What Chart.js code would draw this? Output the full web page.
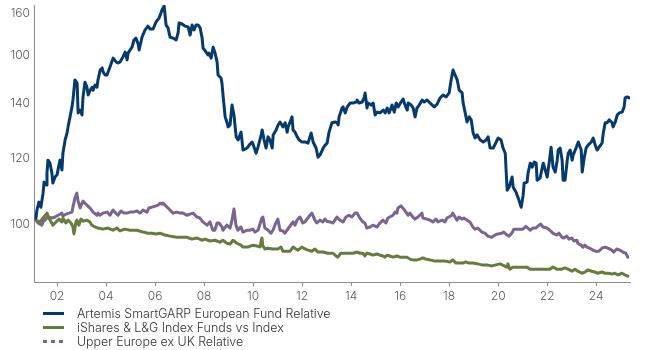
<!DOCTYPE html>
<html>
<head>
<meta charset="utf-8">
<script src="https://cdn.jsdelivr.net/npm/chart.js@4.4.0/dist/chart.umd.min.js"></script>
<style>
    html, body { margin: 0; padding: 0; background: #fff; }
    #wrap { position: relative; width: 650px; height: 350px; }
    .legend { position: absolute; left: 43px; top: 306px; font-family: Inter, sans-serif; font-size: 12.4px; font-weight: 300; color: #333; }
    .legend-row { display: flex; align-items: center; height: 14px; white-space: nowrap; }
    .swatch { width: 21px; height: 3px; margin-right: 13px; }
</style>
</head>
<body>
<div id="wrap">
    <canvas id="chart"></canvas>
    <div class="legend" id="legend"></div>
</div>
<script>
// Axis ticks (the source chart's y labels are printed as-is)
const xTickValues = [2002, 2004, 2006, 2008, 2010, 2012, 2014, 2016, 2018, 2020, 2022, 2024];
const xTickLabels = ['02', '04', '06', '08', '10', '12', '14', '16', '18', '20', '22', '24'];
const yTickValues = [100, 120, 140, 160, 180];
const yTickLabels = ['100', '120', '140', '100', '160'];

const seriesNames = ['Artemis SmartGARP European Fund Relative', 'iShares & L&G Index Funds vs Index', 'Upper Europe ex UK Relative'];

// Artemis SmartGARP European Fund Relative
const artemisDates = [2001.14, 2001.18, 2001.26, 2001.34, 2001.43, 2001.47, 2001.55, 2001.59, 2001.63, 2001.71,
    2001.79, 2001.83, 2001.92, 2002.00, 2002.04, 2002.12, 2002.20, 2002.24, 2002.33, 2002.41,
    2002.45, 2002.53, 2002.61, 2002.65, 2002.73, 2002.82, 2002.86, 2002.94, 2003.02, 2003.06,
    2003.14, 2003.22, 2003.27, 2003.35, 2003.43, 2003.47, 2003.55, 2003.63, 2003.67, 2003.76,
    2003.84, 2003.88, 2003.96, 2004.04, 2004.16, 2004.29, 2004.41, 2004.49, 2004.57, 2004.69,
    2004.78, 2004.86, 2004.90, 2004.98, 2005.06, 2005.14, 2005.22, 2005.31, 2005.35, 2005.47,
    2005.59, 2005.71, 2005.80, 2005.92, 2006.04, 2006.16, 2006.24, 2006.28, 2006.37, 2006.45,
    2006.53, 2006.61, 2006.73, 2006.86, 2006.94, 2006.98, 2007.10, 2007.22, 2007.35, 2007.43,
    2007.51, 2007.59, 2007.67, 2007.76, 2007.84, 2007.92, 2007.96, 2008.08, 2008.16, 2008.20,
    2008.29, 2008.37, 2008.45, 2008.53, 2008.57, 2008.69, 2008.73, 2008.78, 2008.86, 2008.94,
    2008.98, 2009.06, 2009.14, 2009.22, 2009.31, 2009.39, 2009.51, 2009.59, 2009.76, 2009.84,
    2009.96, 2010.04, 2010.12, 2010.20, 2010.33, 2010.37, 2010.45, 2010.53, 2010.61, 2010.69,
    2010.78, 2010.82, 2010.94, 2011.02, 2011.10, 2011.22, 2011.31, 2011.39, 2011.43, 2011.51,
    2011.59, 2011.63, 2011.71, 2011.80, 2011.88, 2012.00, 2012.12, 2012.24, 2012.37, 2012.45,
    2012.57, 2012.65, 2012.73, 2012.86, 2012.94, 2013.02, 2013.10, 2013.22, 2013.35, 2013.43,
    2013.47, 2013.51, 2013.63, 2013.67, 2013.76, 2013.84, 2013.96, 2014.08, 2014.20, 2014.24,
    2014.33, 2014.45, 2014.53, 2014.57, 2014.65, 2014.69, 2014.82, 2014.90, 2014.98, 2015.06,
    2015.18, 2015.31, 2015.39, 2015.47, 2015.55, 2015.67, 2015.76, 2015.84, 2015.92, 2016.04,
    2016.12, 2016.20, 2016.29, 2016.33, 2016.45, 2016.53, 2016.61, 2016.69, 2016.78, 2016.90,
    2016.98, 2017.10, 2017.18, 2017.31, 2017.39, 2017.51, 2017.63, 2017.75, 2017.88, 2018.00,
    2018.08, 2018.16, 2018.24, 2018.33, 2018.41, 2018.53, 2018.57, 2018.65, 2018.73, 2018.82,
    2018.90, 2018.98, 2019.06, 2019.14, 2019.27, 2019.39, 2019.51, 2019.59, 2019.67, 2019.80,
    2019.92, 2020.00, 2020.12, 2020.20, 2020.29, 2020.33, 2020.37, 2020.45, 2020.57, 2020.61,
    2020.73, 2020.82, 2020.94, 2021.02, 2021.06, 2021.18, 2021.22, 2021.31, 2021.39, 2021.47,
    2021.55, 2021.59, 2021.71, 2021.84, 2021.92, 2022.00, 2022.08, 2022.16, 2022.24, 2022.33,
    2022.41, 2022.45, 2022.53, 2022.61, 2022.65, 2022.73, 2022.82, 2022.86, 2022.94, 2023.02,
    2023.06, 2023.18, 2023.27, 2023.39, 2023.43, 2023.51, 2023.59, 2023.67, 2023.80, 2023.88,
    2023.96, 2024.04, 2024.12, 2024.24, 2024.29, 2024.37, 2024.45, 2024.53, 2024.65, 2024.69,
    2024.78, 2024.86, 2024.94, 2025.06, 2025.14, 2025.18, 2025.27, 2025.35];
const artemisValues = [101.7, 104.0, 106.3, 104.8, 109.0, 112.4, 111.5, 115.3, 119.5, 118.5,
    115.3, 112.1, 114.0, 114.7, 116.3, 119.5, 116.3, 121.8, 126.4, 128.9,
    131.1, 134.8, 138.6, 141.3, 149.4, 148.1, 136.3, 137.4, 135.5, 142.5,
    148.5, 146.4, 143.3, 145.2, 146.4, 145.2, 147.3, 146.4, 149.4, 153.6,
    154.5, 152.8, 151.5, 151.5, 154.9, 158.8, 157.1, 156.6, 157.1, 159.3,
    161.5, 158.0, 161.0, 162.4, 163.7, 167.0, 167.9, 165.1, 162.4, 168.4,
    171.7, 173.6, 172.2, 172.2, 175.6, 177.5, 180.0, 181.5, 183.6, 174.1,
    172.7, 168.4, 167.9, 167.0, 170.3, 175.1, 174.6, 173.6, 173.2, 169.3,
    174.1, 171.7, 174.1, 174.1, 172.7, 167.9, 163.3, 161.5, 160.2, 161.0,
    158.8, 163.7, 161.0, 157.1, 151.5, 150.2, 148.1, 142.5, 134.8, 132.6,
    131.1, 131.8, 139.3, 135.5, 127.5, 126.4, 129.2, 122.9, 123.6, 124.6,
    125.7, 123.9, 121.8, 123.9, 128.2, 130.0, 126.4, 123.6, 127.5, 126.4,
    123.6, 128.2, 130.0, 131.8, 132.9, 131.1, 132.6, 129.2, 131.1, 132.9,
    134.8, 130.0, 129.2, 127.5, 126.4, 125.7, 125.7, 125.3, 128.9, 125.7,
    123.6, 120.5, 121.2, 123.6, 124.6, 125.3, 129.2, 132.6, 132.9, 132.6,
    131.8, 134.8, 138.2, 138.6, 136.3, 138.6, 140.1, 140.1, 140.5, 141.3,
    140.1, 140.5, 142.1, 144.1, 138.2, 140.1, 139.3, 140.1, 135.5, 136.6,
    136.3, 137.4, 136.3, 138.2, 136.3, 139.3, 136.6, 140.1, 138.6, 140.5,
    141.7, 139.3, 137.4, 140.1, 139.3, 138.2, 134.8, 138.2, 139.3, 141.3,
    140.5, 141.3, 140.5, 139.3, 138.6, 139.7, 142.1, 143.3, 142.5, 144.1,
    149.4, 153.6, 151.5, 149.4, 145.2, 144.1, 140.1, 136.6, 132.9, 134.8,
    133.7, 128.9, 127.1, 128.2, 126.4, 125.7, 126.4, 127.5, 123.6, 123.6,
    125.7, 127.1, 126.4, 123.6, 121.8, 115.3, 109.9, 110.9, 114.0, 110.9,
    109.3, 107.5, 104.8, 108.4, 112.1, 112.4, 115.3, 118.5, 117.2, 118.9,
    118.5, 113.0, 113.7, 118.5, 116.3, 114.0, 118.5, 123.9, 117.2, 115.6,
    119.5, 122.9, 123.6, 119.5, 113.0, 113.0, 119.5, 121.8, 122.9, 119.5,
    121.2, 123.6, 125.7, 122.9, 115.6, 120.2, 123.6, 124.6, 125.7, 127.1,
    124.6, 122.9, 123.9, 125.3, 128.9, 132.6, 132.6, 133.7, 132.6, 131.1,
    132.9, 135.5, 136.3, 136.6, 138.6, 142.1, 142.5, 142.1];

// iShares & L&G Index Funds vs Index
const indexDates = [2001.14, 2001.30, 2001.43, 2001.59, 2001.67, 2001.83, 2001.96, 2002.08, 2002.20, 2002.24,
    2002.36, 2002.45, 2002.57, 2002.65, 2002.69, 2002.77, 2002.81, 2002.89, 2002.98, 2003.06,
    2003.22, 2003.34, 2003.42, 2003.55, 2003.67, 2003.87, 2004.08, 2004.28, 2004.44, 2004.57,
    2004.77, 2004.98, 2005.26, 2005.51, 2005.71, 2005.87, 2006.04, 2006.20, 2006.40, 2006.61,
    2006.89, 2007.10, 2007.30, 2007.50, 2007.71, 2007.91, 2008.04, 2008.24, 2008.44, 2008.65,
    2008.77, 2008.93, 2009.06, 2009.18, 2009.34, 2009.50, 2009.59, 2009.79,
    2009.99, 2010.16, 2010.28, 2010.36, 2010.40, 2010.48, 2010.61, 2010.81, 2011.01, 2011.14,
    2011.22, 2011.38, 2011.50, 2011.63, 2011.75, 2011.83, 2011.99, 2012.12, 2012.24, 2012.40,
    2012.52, 2012.65, 2012.85, 2013.05, 2013.26, 2013.38, 2013.46, 2013.58, 2013.83, 2014.07,
    2014.24, 2014.36, 2014.48, 2014.56, 2014.64, 2014.77, 2014.89, 2015.05, 2015.18, 2015.30,
    2015.38, 2015.46, 2015.58, 2015.71, 2015.87, 2015.99, 2016.11, 2016.28, 2016.40, 2016.52,
    2016.68, 2016.81, 2016.93, 2017.05, 2017.22, 2017.42, 2017.62, 2017.83, 2018.03,
    2018.15, 2018.28, 2018.40, 2018.56, 2018.68, 2018.81, 2018.97, 2019.17, 2019.38, 2019.58,
    2019.74, 2019.87, 2020.07, 2020.19, 2020.36, 2020.40, 2020.48, 2020.60, 2020.76, 2020.97,
    2021.17, 2021.30, 2021.50, 2021.70, 2021.91, 2022.11, 2022.23, 2022.40, 2022.60, 2022.72,
    2022.85, 2023.01, 2023.13, 2023.25, 2023.42, 2023.54, 2023.66, 2023.82, 2023.95, 2024.07,
    2024.23, 2024.36, 2024.48, 2024.64, 2024.76, 2024.89, 2025.05, 2025.17, 2025.29];
const indexValues = [101.1, 100.6, 101.7, 103.1, 101.7, 99.7, 100.6, 101.4, 100.6, 101.7,
    100.3, 101.1, 100.3, 99.2, 97.3, 100.6, 101.1, 99.7, 101.4, 100.8,
    101.1, 100.6, 99.7, 99.2, 98.9, 98.6, 98.9, 98.3, 98.9, 98.1,
    98.6, 98.3, 98.3, 97.8, 97.5, 97.5, 97.3, 97.5, 97.0, 96.7,
    96.4, 96.4, 96.4, 95.9, 96.2, 95.6, 95.9, 95.4, 95.6, 95.1,
    95.6, 94.8, 94.6, 95.6, 94.8, 94.3, 93.8, 93.8,
    94.3, 94.1, 93.8, 96.2, 94.1, 93.3, 93.5, 93.3, 93.3, 93.8,
    92.7, 92.7, 92.7, 93.8, 93.3, 93.0, 93.8, 93.3, 93.0, 92.7,
    93.3, 92.5, 92.5, 92.2, 92.2, 91.5, 91.2, 92.2, 92.2, 92.2,
    92.5, 92.2, 92.2, 91.5, 92.2, 92.0, 91.7, 92.0, 91.7, 91.5,
    91.2, 91.7, 91.5, 91.2, 91.5, 91.2, 91.2, 91.2, 90.7, 90.5,
    90.5, 90.7, 91.0, 90.7, 90.5, 90.2, 90.2, 90.2, 90.0,
    90.5, 89.7, 89.7, 89.7, 90.0, 89.7, 89.7, 89.5, 89.2, 89.2,
    89.0, 89.2, 89.5, 89.2, 88.7, 89.5, 88.2, 88.7, 88.7, 88.7,
    88.7, 88.2, 88.2, 88.2, 88.2, 88.2, 88.7, 88.2, 88.2, 88.5,
    88.2, 87.7, 88.2, 87.7, 87.2, 87.5, 88.0, 87.7, 87.5, 87.2,
    87.5, 87.2, 87.2, 87.0, 87.2, 86.8, 87.2, 86.8, 86.5];

// Upper Europe ex UK Relative
const upperDates = [2001.14, 2001.22, 2001.38, 2001.43, 2001.59, 2001.63, 2001.79, 2001.92, 2002.04, 2002.20,
    2002.24, 2002.36, 2002.49, 2002.61, 2002.65, 2002.73, 2002.81, 2002.85, 2002.94, 2003.02,
    2003.06, 2003.22, 2003.34, 2003.47, 2003.63, 2003.67, 2003.75, 2003.87, 2004.04, 2004.16,
    2004.28, 2004.40, 2004.49, 2004.61, 2004.73, 2004.85, 2004.98, 2005.10, 2005.26, 2005.38,
    2005.51, 2005.67, 2005.75, 2005.91, 2006.04, 2006.12, 2006.20, 2006.28, 2006.32, 2006.48,
    2006.61, 2006.73, 2006.89, 2007.02, 2007.14, 2007.30, 2007.42, 2007.55, 2007.71, 2007.83,
    2007.95, 2008.12, 2008.24, 2008.36, 2008.44, 2008.53, 2008.61, 2008.73, 2008.77, 2008.93,
    2009.06, 2009.14, 2009.22, 2009.30, 2009.38, 2009.50, 2009.59, 2009.75,
    2009.87, 2009.99, 2010.08, 2010.20, 2010.36, 2010.40, 2010.48, 2010.61, 2010.73, 2010.81,
    2010.93, 2011.01, 2011.10, 2011.22, 2011.30, 2011.38, 2011.50, 2011.63, 2011.71, 2011.79,
    2011.91, 2012.03, 2012.12, 2012.20, 2012.32, 2012.40, 2012.52, 2012.60, 2012.73, 2012.85,
    2012.93, 2013.01, 2013.14, 2013.26, 2013.34, 2013.42, 2013.54, 2013.67, 2013.79, 2013.91,
    2014.03, 2014.16, 2014.24, 2014.36, 2014.48, 2014.56, 2014.64, 2014.77, 2014.89, 2015.05,
    2015.18, 2015.30, 2015.42, 2015.50, 2015.58, 2015.71, 2015.79, 2015.87, 2015.91, 2016.03,
    2016.11, 2016.24, 2016.32, 2016.40, 2016.52, 2016.60, 2016.73, 2016.89, 2016.93, 2017.09,
    2017.22, 2017.34, 2017.46, 2017.54, 2017.71, 2017.83, 2017.91, 2017.99,
    2018.11, 2018.15, 2018.24, 2018.32, 2018.40, 2018.52, 2018.60, 2018.72, 2018.85, 2018.97,
    2019.05, 2019.17, 2019.34, 2019.46, 2019.58, 2019.74, 2019.87, 2019.99, 2020.15, 2020.23,
    2020.36, 2020.44, 2020.56, 2020.64, 2020.76, 2020.89, 2021.01, 2021.13, 2021.21, 2021.30,
    2021.42, 2021.54, 2021.62, 2021.74, 2021.83, 2021.99, 2022.11, 2022.23, 2022.40, 2022.48,
    2022.60, 2022.68, 2022.80, 2022.89, 2023.01, 2023.09, 2023.21, 2023.25, 2023.38, 2023.46,
    2023.54, 2023.62, 2023.74, 2023.87, 2023.99, 2024.11, 2024.23, 2024.36, 2024.48, 2024.64,
    2024.72, 2024.84, 2024.97, 2025.09, 2025.21, 2025.29];
const upperValues = [101.1, 100.3, 99.7, 100.6, 101.7, 102.0, 101.7, 102.0, 102.5, 103.1,
    102.3, 102.8, 103.1, 103.4, 104.9, 107.5, 109.0, 106.9, 104.6, 106.0,
    106.6, 105.4, 104.6, 103.4, 102.5, 103.1, 102.5, 103.1, 103.4, 102.5,
    104.0, 103.1, 102.5, 103.7, 103.1, 103.1, 103.4, 103.4, 103.7, 103.1,
    104.0, 103.4, 104.6, 104.9, 105.2, 105.4, 106.0, 105.7, 106.0, 104.9,
    104.0, 103.1, 103.4, 103.1, 103.1, 102.5, 102.8, 103.1, 102.0, 101.7,
    100.6, 99.7, 100.6, 98.3, 98.3, 100.3, 100.3, 99.2, 98.3, 99.7,
    98.9, 101.1, 104.3, 99.7, 98.3, 99.2, 97.8, 98.3,
    98.3, 98.6, 97.8, 98.3, 101.7, 102.0, 98.9, 98.3, 97.5, 98.3,
    100.3, 101.4, 98.3, 98.1, 97.5, 98.3, 99.4, 100.6, 99.7, 101.1,
    102.0, 100.3, 100.6, 101.4, 102.5, 103.1, 101.1, 100.3, 101.1, 100.6,
    101.4, 100.8, 100.6, 100.3, 101.1, 102.0, 101.1, 100.6, 102.0, 102.5,
    102.0, 103.1, 103.1, 101.7, 100.6, 100.3, 98.9, 99.2, 99.7, 99.2,
    100.3, 101.1, 100.3, 101.7, 102.0, 102.5, 103.4, 103.1, 104.6, 105.2,
    104.6, 103.4, 102.5, 103.1, 102.0, 101.4, 102.0, 103.1, 101.7, 101.4,
    101.1, 100.6, 101.4, 100.6, 101.1, 100.6, 101.7, 102.0,
    102.5, 103.1, 102.0, 101.1, 102.0, 101.4, 101.7, 101.1, 100.6, 99.2,
    98.6, 98.9, 97.8, 97.5, 96.7, 96.4, 97.0, 97.3, 97.5, 97.8,
    97.0, 96.7, 97.5, 98.6, 98.6, 98.6, 98.6, 99.4, 98.9, 98.3,
    98.9, 98.9, 99.4, 100.0, 99.2, 98.9, 98.3, 97.5, 97.0, 97.5,
    96.4, 96.2, 96.7, 95.9, 96.2, 95.4, 95.6, 94.8, 94.3, 93.8,
    94.3, 93.8, 93.5, 93.0, 92.7, 92.7, 93.5, 93.8, 93.5, 93.0,
    92.5, 93.3, 93.0, 92.5, 92.2, 91.2];

const colors = {
    artemis: '#063a6c',
    index: '#687a3e',
    upper: '#7a6590',
    axis: '#8c8c8c',
    tickText: '#5a5a5a',
    legendText: '#333333'
};

function toPoints(dates, values) {
    return dates.map((d, i) => ({ x: d, y: values[i] }));
}

// Legend (HTML, stacked vertically under the axis)
const legendItems = [
    { name: seriesNames[0], color: colors.artemis, dashed: false },
    { name: seriesNames[1], color: colors.index, dashed: false },
    { name: seriesNames[2], color: colors.upper, dashed: true }
];
const legendEl = document.getElementById('legend');
legendItems.forEach(item => {
    const row = document.createElement('div');
    row.className = 'legend-row';
    const bg = item.dashed
        ? `repeating-linear-gradient(to right, ${item.color} 0 4px, transparent 4px 8px)`
        : item.color;
    row.innerHTML = `<span class="swatch" style="background:${bg}"></span><span>${item.name}</span>`;
    legendEl.appendChild(row);
});

const ctx = document.getElementById('chart').getContext('2d');
new Chart(ctx, {
    type: 'line',
    data: {
        datasets: [
            { label: seriesNames[0], data: toPoints(artemisDates, artemisValues), borderColor: colors.artemis, borderWidth: 3 },
            { label: seriesNames[1], data: toPoints(indexDates, indexValues), borderColor: colors.index, borderWidth: 3 },
            { label: seriesNames[2], data: toPoints(upperDates, upperValues), borderColor: colors.upper, borderWidth: 3 }
        ]
    },
    options: {
        responsive: true,
        maintainAspectRatio: false,
        animation: false,
        elements: {
            point: { radius: 0, hoverRadius: 0 },
            line: { tension: 0, borderJoinStyle: 'round', borderCapStyle: 'round' }
        },
        layout: {
            padding: { left: 0, top: 5, right: 20, bottom: 44 }
        },
        plugins: {
            legend: { display: false },
            tooltip: { enabled: false }
        },
        scales: {
            x: {
                type: 'linear',
                min: 2001.06,
                max: 2025.38,
                afterBuildTicks: (scale) => {
                    scale.ticks = xTickValues.map(v => ({ value: v }));
                },
                afterFit: (scale) => {
                    scale.height = 24;
                    scale.paddingLeft = 0;
                    scale.paddingRight = 0;
                },
                grid: { drawOnChartArea: false, drawTicks: true, tickLength: 4, color: colors.axis },
                border: { color: colors.axis, width: 1 },
                ticks: {
                    padding: 3,
                    maxRotation: 0,
                    autoSkip: false,
                    color: colors.tickText,
                    font: { family: 'Inter', size: 12, weight: '300' },
                    callback: (value) => xTickLabels[xTickValues.indexOf(value)]
                }
            },
            y: {
                type: 'logarithmic',
                min: 85.1,
                max: 184.1,
                afterBuildTicks: (scale) => {
                    scale.ticks = yTickValues.map(v => ({ value: v }));
                },
                afterFit: (scale) => {
                    scale.width = 34;
                    scale.paddingTop = 0;
                    scale.paddingBottom = 0;
                },
                grid: { drawOnChartArea: false, drawTicks: false },
                border: { color: colors.axis, width: 1 },
                ticks: {
                    padding: 4,
                    autoSkip: false,
                    color: colors.tickText,
                    font: { family: 'Inter', size: 12, weight: '300' },
                    callback: (value) => yTickLabels[yTickValues.indexOf(value)]
                }
            }
        }
    }
});
</script>
</body>
</html>
